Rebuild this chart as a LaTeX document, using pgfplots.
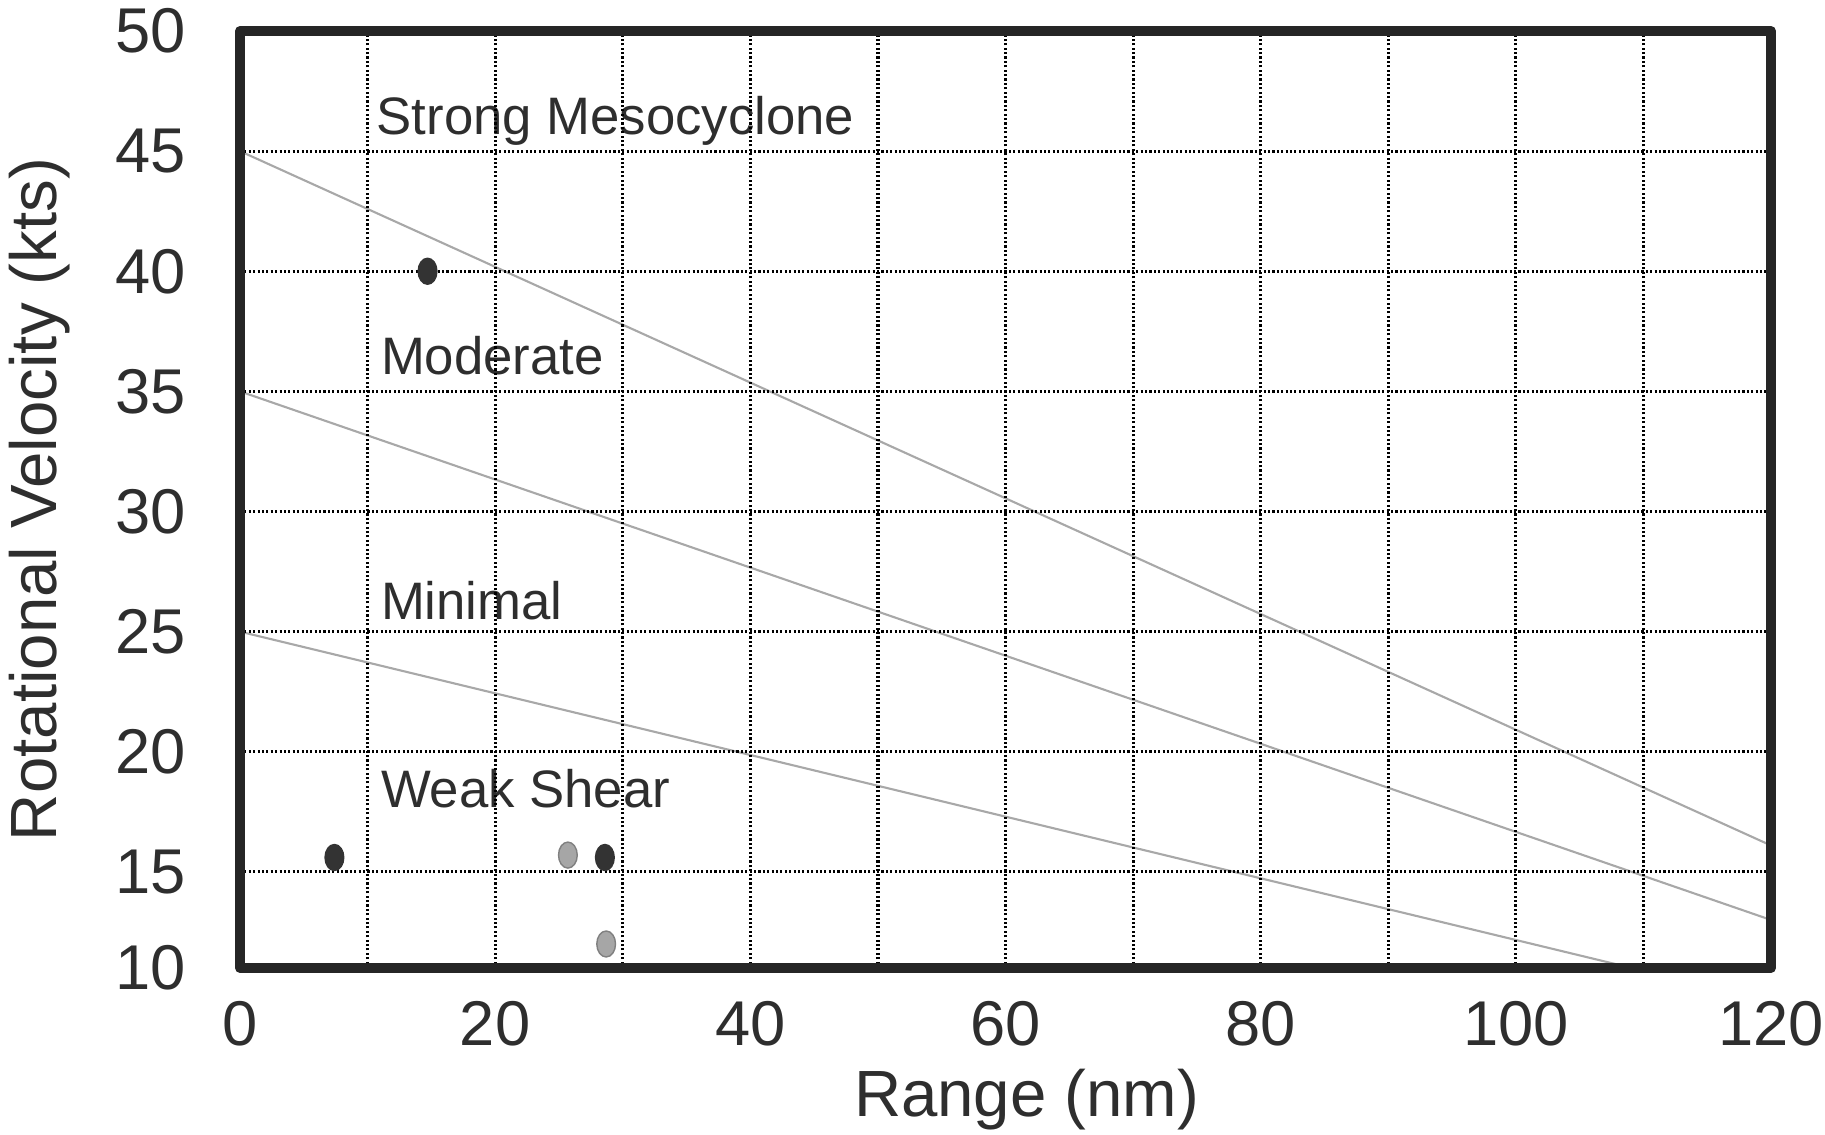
\documentclass[border=0pt]{standalone}
\usepackage{fontspec}
\setmainfont{Liberation Sans}
\usepackage{pgfplots}
\pgfplotsset{compat=1.18}
\definecolor{txt}{HTML}{2E2E2E}
\definecolor{dk}{HTML}{333333}
\definecolor{lg}{HTML}{A8A8A8}
\begin{document}
\begin{tikzpicture}
\useasboundingbox (-2.40,-1.66) rectangle (15.85,9.68);
\begin{axis}[
  scale only axis,
  width=15.31cm, height=9.37cm,
  xmin=0, xmax=120, ymin=11, ymax=50,
  xtick={0,20,...,120},
  minor xtick={10,30,...,110},
  ytick={11,15,20,25,30,35,40,45,50},
  yticklabels={10,15,20,25,30,35,40,45,50},
  xmajorgrids, xminorgrids, ymajorgrids,
  grid style={black, line width=0.9pt, dash pattern=on 0.6pt off 0.65pt},
  minor grid style={black, line width=0.9pt, dash pattern=on 0.6pt off 0.65pt},
  major tick length=0pt, minor tick length=0pt,
  axis line style={line width=2.8pt, black!85, line join=round},
  /pgf/number format/assume math mode=true,
  tick label style={font=\fontsize{18}{20}\selectfont, text=txt},
  yticklabel style={xshift=-12pt},
  xticklabel style={yshift=-6pt},
  xlabel={Range (nm)},
  ylabel={Rotational Velocity (kts)},
  label style={font=\fontsize{18.6}{20}\selectfont, text=txt},
  xlabel style={yshift=0.5pt, xshift=6pt},
  ylabel style={yshift=6pt},
  axis on top,
]
\addplot[lg, line width=0.6pt] coordinates {(0,45) (120,16.1)};
\addplot[lg, line width=0.6pt] coordinates {(0,35) (120,13.0)};
\addplot[lg, line width=0.6pt] coordinates {(0,25) (120,9.6)};
\addplot[only marks, mark=*, mark size=3.7pt, mark options={xscale=0.72, fill=dk, draw=dk}]
  coordinates {(7.4,15.6) (14.7,40.0) (28.6,15.6)};
\addplot[only marks, mark=*, mark size=3.7pt, mark options={xscale=0.72, fill=black!35, draw=black!50}]
  coordinates {(25.7,15.7) (28.7,12.0)};
\node[anchor=west, text=txt, font=\fontsize{15}{17}\selectfont, inner sep=0pt] at (axis cs:10.66,46.25) {Strong Mesocyclone};
\node[anchor=west, text=txt, font=\fontsize{15}{17}\selectfont, inner sep=0pt] at (axis cs:11.0,36.5) {Moderate};
\node[anchor=west, text=txt, font=\fontsize{15}{17}\selectfont, inner sep=0pt] at (axis cs:11.0,26.3) {Minimal};
\node[anchor=west, text=txt, font=\fontsize{15}{17}\selectfont, inner sep=0pt] at (axis cs:11.0,18.45) {Weak Shear};
\end{axis}
\end{tikzpicture}
\end{document}
